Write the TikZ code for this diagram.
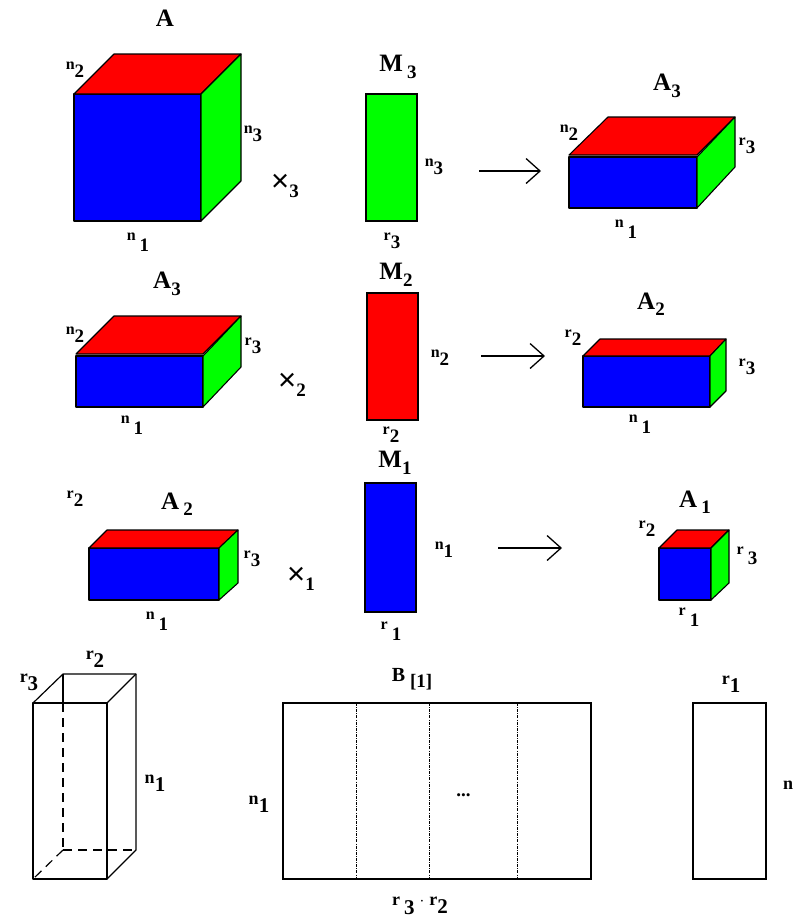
\documentclass[tikz,border=0pt]{standalone}
\usepackage{fontspec}
\setmainfont{Liberation Serif}
\usetikzlibrary{arrows.meta,positioning}
\definecolor{cubeblue}{RGB}{0,0,255}
\definecolor{cubered}{RGB}{255,0,0}
\definecolor{cubegreen}{RGB}{0,255,0}
% base letter, then lowered index
\newcommand{\lab}[2]{{\fontsize{16}{16}\selectfont\bfseries #1}\raisebox{-8pt}{\fontsize{19}{19}\selectfont\bfseries #2}}
\newcommand{\labbig}[2]{{\fontsize{18}{18}\selectfont\bfseries #1}\raisebox{-8pt}{\fontsize{21}{21}\selectfont\bfseries #2}}
\newcommand{\labgap}[2]{{\fontsize{16}{16}\selectfont\bfseries #1}\hspace{4pt}\raisebox{-10.5pt}{\fontsize{19}{19}\selectfont\bfseries #2}}
\newcommand{\capt}[2]{{\fontsize{25}{25}\selectfont\bfseries #1}\raisebox{-6.5pt}{\fontsize{19}{19}\selectfont\bfseries #2}}
\newcommand{\capgap}[2]{{\fontsize{25}{25}\selectfont\bfseries #1}\hspace{4pt}\raisebox{-6.5pt}{\fontsize{19}{19}\selectfont\bfseries #2}}
\newcommand{\tim}[1]{{\fontsize{31}{31}\selectfont\fontspec{Liberation Sans}×}\raisebox{-6pt}{\fontsize{19}{19}\selectfont\bfseries #1}}
\begin{document}
\begin{tikzpicture}[x=1pt,y=-1pt,
  face/.style={draw=black,line width=1.1pt,line join=round},
  mat/.style={draw=black,line width=1.2pt,minimum width=51pt,inner sep=0pt},
  wire/.style={black,line width=1.2pt,line join=round},
  hidden/.style={wire,dash pattern=on 9pt off 6pt},
  cut/.style={black,line width=.5pt,dash pattern=on 3pt off 1.2pt on .8pt off 1.2pt},
  arr/.style={-{Straight Barb[length=14pt,width=25pt,line width=1.3pt]},line width=1.3pt},
  lbl/.style={inner sep=0pt}
]
  \useasboundingbox (0,0) rectangle (794,919);
  % first row
  \fill[face,fill=cubeblue] (74,94) rectangle (201,221);
  \fill[face,fill=cubered] (74,94) -- (201,94) -- (241,54) -- (114,54) -- cycle;
  \fill[face,fill=cubegreen] (201,94) -- (241,54) -- (241,181) -- (201,221) -- cycle;
  \node[mat,fill=cubegreen,minimum height=127pt] (mthree) at (391.5,157.5) {};
  \coordinate (afromt) at (479,171);
  \coordinate (atot) at (541,171);
  \draw[arr] (afromt) -- (atot);
  \fill[face,fill=cubeblue] (569,157) rectangle (697,208);
  \fill[face,fill=cubered] (569,155) -- (697,155) -- (735,117) -- (608,117) -- cycle;
  \fill[face,fill=cubegreen] (697,157) -- (735,117) -- (735,167) -- (697,208) -- cycle;
  \node[lbl] (la) at (165,21) {\capt{A}{}};
  \node[lbl] (lna) at (75,70) {\lab{n}{2}};
  \node[lbl] (lnb) at (253,134) {\lab{n}{3}};
  \node[lbl] (lnc) at (138,242) {\labgap{n}{1}};
  \node[lbl] (ltimt) at (285,186) {\tim{3}};
  \node[lbl] (lmt) at (398,67) {\capgap{M}{3}};
  \node[lbl] (lnd) at (434,167) {\lab{n}{3}};
  \node[lbl] (lre) at (392,241) {\lab{r}{3}};
  \node[lbl] (lat) at (667,86) {\capt{A}{3}};
  \node[lbl] (lnf) at (569,133) {\lab{n}{2}};
  \node[lbl] (lrg) at (747,146) {\lab{r}{3}};
  \node[lbl] (lnh) at (626,229) {\labgap{n}{1}};
  % second row
  \fill[face,fill=cubeblue] (76,356) rectangle (203,407);
  \fill[face,fill=cubered] (76,354) -- (203,354) -- (241,316) -- (114,316) -- cycle;
  \fill[face,fill=cubegreen] (203,356) -- (241,316) -- (241,367) -- (203,407) -- cycle;
  \node[mat,fill=cubered,minimum height=127pt] (mtwo) at (392.5,356.5) {};
  \coordinate (afroms) at (481,356);
  \coordinate (atos) at (545,356);
  \draw[arr] (afroms) -- (atos);
  \fill[face,fill=cubeblue] (583,356) rectangle (710,407);
  \fill[face,fill=cubered] (583,356) -- (710,356) -- (726,339) -- (600,339) -- cycle;
  \fill[face,fill=cubegreen] (710,356) -- (726,339) -- (726,391) -- (710,407) -- cycle;
  \node[lbl] (lbt) at (167,284) {\capt{A}{3}};
  \node[lbl] (lni) at (75,335) {\lab{n}{2}};
  \node[lbl] (lrj) at (253,346) {\lab{r}{3}};
  \node[lbl] (lnk) at (132,425) {\labgap{n}{1}};
  \node[lbl] (ltims) at (292,385) {\tim{2}};
  \node[lbl] (lms) at (396,275) {\capt{M}{2}};
  \node[lbl] (lnl) at (440,358) {\lab{n}{2}};
  \node[lbl] (lrm) at (391,435) {\lab{r}{2}};
  \node[lbl] (las) at (651,304) {\capt{A}{2}};
  \node[lbl] (lrn) at (573,338) {\lab{r}{2}};
  \node[lbl] (lro) at (747,367) {\lab{r}{3}};
  \node[lbl] (lnp) at (640,424) {\labgap{n}{1}};
  % third row
  \fill[face,fill=cubeblue] (89,548) rectangle (219,600);
  \fill[face,fill=cubered] (89,548) -- (219,548) -- (238,530) -- (107,530) -- cycle;
  \fill[face,fill=cubegreen] (219,548) -- (238,530) -- (238,583) -- (219,600) -- cycle;
  \node[mat,fill=cubeblue,minimum height=129pt] (mone) at (390.5,547.5) {};
  \coordinate (afromo) at (498,548);
  \coordinate (atoo) at (562,548);
  \draw[arr] (afromo) -- (atoo);
  \fill[face,fill=cubeblue] (659,548) rectangle (711,600);
  \fill[face,fill=cubered] (659,548) -- (711,548) -- (729,530) -- (677,530) -- cycle;
  \fill[face,fill=cubegreen] (711,548) -- (729,530) -- (729,583) -- (711,600) -- cycle;
  \node[lbl] (lct) at (177,504) {\capgap{A}{2}};
  \node[lbl] (lrq) at (75,499) {\lab{r}{2}};
  \node[lbl] (lrr) at (252,559) {\lab{r}{3}};
  \node[lbl] (lns) at (157,621) {\labgap{n}{1}};
  \node[lbl] (ltimo) at (301,579) {\tim{1}};
  \node[lbl] (lmo) at (395,463) {\capt{M}{1}};
  \node[lbl] (lnu) at (444,550) {\lab{n}{1}};
  \node[lbl] (lrv) at (391,631) {\labgap{r}{1}};
  \node[lbl] (lao) at (695,502) {\capgap{A}{1}};
  \node[lbl] (lrw) at (647,529) {\lab{r}{2}};
  \node[lbl] (lrx) at (747,556) {\labgap{r}{3}};
  \node[lbl] (lry) at (689,617) {\labgap{r}{1}};
  % bottom row
  \draw[wire] (33,703) rectangle (107,879);
  \draw[wire] (33,703) -- (63,674) -- (136,674) -- (136,850) -- (107,879);
  \draw[wire] (107,703) -- (136,674);
  \draw[wire] (63,674) -- (63,703);
  \draw[hidden] (63,703) -- (63,850);
  \draw[hidden] (63,850) -- (136,850);
  \draw[hidden] (63,850) -- (33,879);
  \node[lbl] (lrz) at (95,659) {\labbig{r}{2}};
  \node[lbl] (lrc) at (29,682) {\labbig{r}{3}};
  \node[lbl] (lnq) at (155,783) {\labbig{n}{1}};
  \node[mat,minimum width=308pt,minimum height=176pt] (bmat) at (437,791) {};
  \draw[cut] (356,703) -- (356,879);
  \draw[cut] (429,703) -- (429,879);
  \draw[cut] (517,703) -- (517,879);
  \node[lbl] (lb) at (412,679) {{\fontsize{20}{20}\selectfont\bfseries B}\hspace{5pt}\raisebox{-6pt}{\fontsize{19}{19}\selectfont\bfseries [1]}};
  \node[lbl] (ldots) at (463.5,795) {\fontsize{19}{19}\selectfont\bfseries ...};
  \node[lbl] (lnb) at (259,804) {\labbig{n}{1}};
  \node[lbl] (lrr) at (420,906) {{\fontsize{18}{18}\selectfont\bfseries r}\hspace{4pt}\raisebox{-9pt}{\fontsize{21}{21}\selectfont\bfseries 3}\hspace{5pt}{\fontsize{16}{16}\selectfont\bfseries $\cdot$}\hspace{5pt}\labbig{r}{2}};
  \node[mat,minimum width=73pt,minimum height=176pt] (rmat) at (729.5,791) {};
  \node[lbl] (lro) at (731,684) {\labbig{r}{1}};
  \node[lbl] (lnn) at (788,785) {\fontsize{18}{18}\selectfont\bfseries n};
\end{tikzpicture}
\end{document}
